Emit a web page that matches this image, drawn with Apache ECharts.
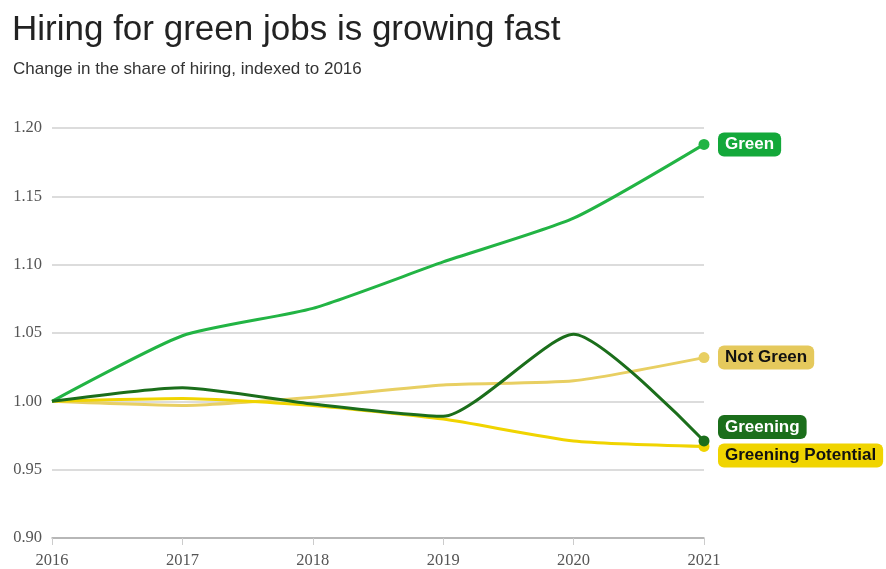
<!DOCTYPE html>
<html>
<head>
<meta charset="utf-8">
<script src="https://cdn.jsdelivr.net/npm/echarts@6/dist/echarts.min.js"></script>
<style>
  html, body { margin: 0; padding: 0; background: #fff; }
  #chart { width: 886px; height: 569px; }
</style>
</head>
<body>
<div id="chart"></div>
<script>
  const years = ['2016', '2017', '2018', '2019', '2020', '2021']
  const green = [1.000, 1.048, 1.068, 1.102, 1.134, 1.188]
  const notGreen = [1.000, 0.997, 1.003, 1.012, 1.015, 1.032]
  const greening = [1.000, 1.010, 0.998, 0.989, 1.049, 0.971]
  const greeningPotential = [1.000, 1.002, 0.997, 0.987, 0.971, 0.967]

  const chart = echarts.init(document.getElementById('chart'))

  // one line per category, dot + badge only at the last year
  function line(name, data, color, labelBg, labelColor, offset) {
    return {
      name: name,
      type: 'line',
      data: data,
      smooth: 0.2,
      symbol: 'circle',
      symbolSize: (v, p) => p.dataIndex === data.length - 1 ? 11 : 0,
      showSymbol: true,
      lineStyle: { color: color, width: 3 },
      itemStyle: { color: color },
      emphasis: { disabled: true },
      endLabel: {
        show: true,
        formatter: name,
        distance: 14,
        offset: offset,
        color: labelColor,
        backgroundColor: labelBg,
        borderRadius: 6,
        padding: [4, 7, 3, 7],
        fontFamily: 'Liberation Sans, Arial, sans-serif',
        fontWeight: 'bold',
        fontSize: 17
      }
    }
  }

  chart.setOption({
    animation: false,
    title: [{
      text: 'Hiring for green jobs is growing fast',
      left: 7, top: 8,
      textStyle: { fontFamily: 'Liberation Sans, Arial, sans-serif', fontSize: 35, fontWeight: 'normal', color: '#222' }
    }, {
      text: 'Change in the share of hiring, indexed to 2016',
      left: 8, top: 56,
      textStyle: { fontFamily: 'Liberation Sans, Arial, sans-serif', fontSize: 17, fontWeight: 'normal', color: '#333' }
    }],
    grid: { left: 52, right: 182, top: 128, bottom: 31 },
    xAxis: {
      type: 'category',
      data: years,
      boundaryGap: false,
      axisLine: { lineStyle: { color: '#aaa', width: 1.5 } },
      axisTick: { show: true, length: 7, lineStyle: { color: '#ccc' } },
      axisLabel: { color: '#555', fontFamily: 'Liberation Serif, serif', fontSize: 16.5, margin: 14 }
    },
    yAxis: {
      type: 'value',
      min: 0.90, max: 1.20, interval: 0.05,
      axisLine: { show: false },
      axisTick: { show: false },
      axisLabel: {
        color: '#555', fontFamily: 'Liberation Serif, serif', fontSize: 16.5, margin: 10,
        formatter: v => v.toFixed(2)
      },
      splitLine: { lineStyle: { color: '#d0d0d0', width: 1.5 } }
    },
    series: [
      line('Not Green', notGreen, '#e8cf62', '#e5c95c', '#111', [0, 0]),
      line('Greening Potential', greeningPotential, '#f0d400', '#f0d400', '#111', [0, 9]),
      line('Green', green, '#22b444', '#13a83a', '#fff', [0, 0]),
      line('Greening', greening, '#1b6e1b', '#1b6e1b', '#fff', [0, -14])
    ]
  })
</script>
</body>
</html>
